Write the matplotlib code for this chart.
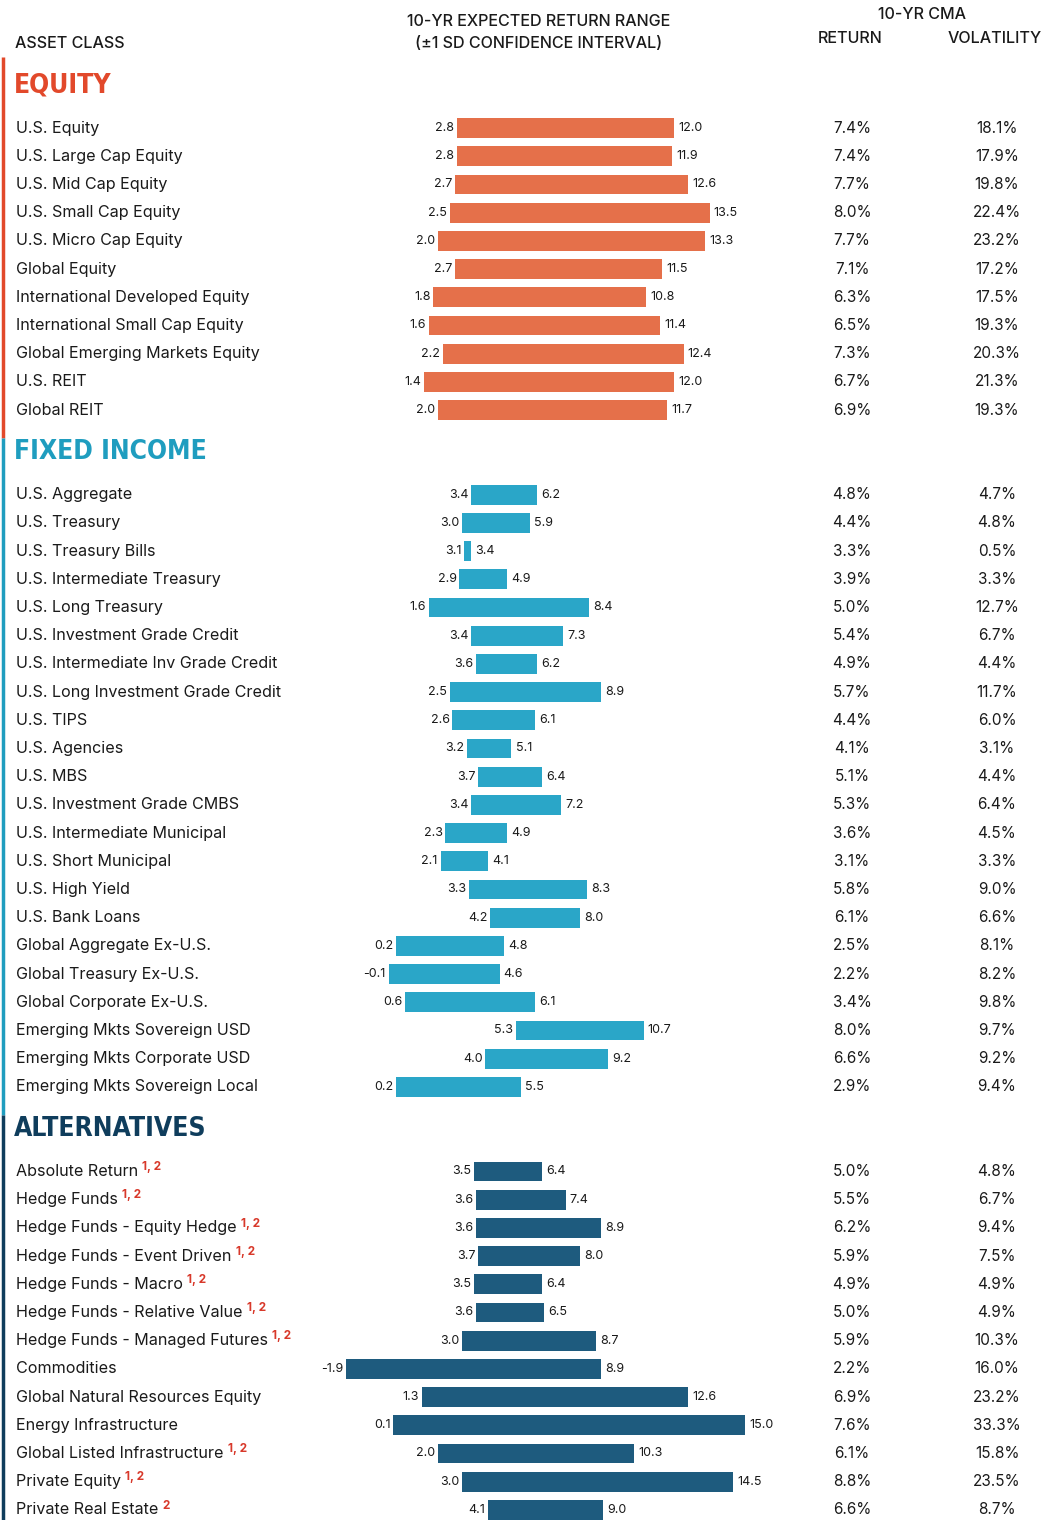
import matplotlib.pyplot as plt
from matplotlib import font_manager
from matplotlib.transforms import blended_transform_factory

# ---- data ----
equity_names = ["U.S. Equity", "U.S. Large Cap Equity", "U.S. Mid Cap Equity",
                "U.S. Small Cap Equity", "U.S. Micro Cap Equity", "Global Equity",
                "International Developed Equity", "International Small Cap Equity",
                "Global Emerging Markets Equity", "U.S. REIT", "Global REIT"]
equity_low = [2.8, 2.8, 2.7, 2.5, 2.0, 2.7, 1.8, 1.6, 2.2, 1.4, 2.0]
equity_high = [12.0, 11.9, 12.6, 13.5, 13.3, 11.5, 10.8, 11.4, 12.4, 12.0, 11.7]
equity_ret = ["7.4%", "7.4%", "7.7%", "8.0%", "7.7%", "7.1%", "6.3%", "6.5%", "7.3%", "6.7%", "6.9%"]
equity_vol = ["18.1%", "17.9%", "19.8%", "22.4%", "23.2%", "17.2%", "17.5%", "19.3%", "20.3%", "21.3%", "19.3%"]

fi_names = ["U.S. Aggregate", "U.S. Treasury", "U.S. Treasury Bills", "U.S. Intermediate Treasury",
            "U.S. Long Treasury", "U.S. Investment Grade Credit", "U.S. Intermediate Inv Grade Credit",
            "U.S. Long Investment Grade Credit", "U.S. TIPS", "U.S. Agencies", "U.S. MBS",
            "U.S. Investment Grade CMBS", "U.S. Intermediate Municipal", "U.S. Short Municipal",
            "U.S. High Yield", "U.S. Bank Loans", "Global Aggregate Ex-U.S.",
            "Global Treasury Ex-U.S.", "Global Corporate Ex-U.S.", "Emerging Mkts Sovereign USD",
            "Emerging Mkts Corporate USD", "Emerging Mkts Sovereign Local"]
fi_low = [3.4, 3.0, 3.1, 2.9, 1.6, 3.4, 3.6, 2.5, 2.6, 3.2, 3.7, 3.4, 2.3, 2.1, 3.3, 4.2,
          0.2, -0.1, 0.6, 5.3, 4.0, 0.2]
fi_high = [6.2, 5.9, 3.4, 4.9, 8.4, 7.3, 6.2, 8.9, 6.1, 5.1, 6.4, 7.2, 4.9, 4.1, 8.3, 8.0,
           4.8, 4.6, 6.1, 10.7, 9.2, 5.5]
fi_ret = ["4.8%", "4.4%", "3.3%", "3.9%", "5.0%", "5.4%", "4.9%", "5.7%", "4.4%", "4.1%", "5.1%",
          "5.3%", "3.6%", "3.1%", "5.8%", "6.1%", "2.5%", "2.2%", "3.4%", "8.0%", "6.6%", "2.9%"]
fi_vol = ["4.7%", "4.8%", "0.5%", "3.3%", "12.7%", "6.7%", "4.4%", "11.7%", "6.0%", "3.1%", "4.4%",
          "6.4%", "4.5%", "3.3%", "9.0%", "6.6%", "8.1%", "8.2%", "9.8%", "9.7%", "9.2%", "9.4%"]

alt_names = ["Absolute Return", "Hedge Funds", "Hedge Funds - Equity Hedge",
             "Hedge Funds - Event Driven", "Hedge Funds - Macro", "Hedge Funds - Relative Value",
             "Hedge Funds - Managed Futures", "Commodities", "Global Natural Resources Equity",
             "Energy Infrastructure", "Global Listed Infrastructure", "Private Equity",
             "Private Real Estate"]
alt_notes = ["1, 2", "1, 2", "1, 2", "1, 2", "1, 2", "1, 2", "1, 2", "", "", "", "1, 2", "1, 2", "2"]
alt_low = [3.5, 3.6, 3.6, 3.7, 3.5, 3.6, 3.0, -1.9, 1.3, 0.1, 2.0, 3.0, 4.1]
alt_high = [6.4, 7.4, 8.9, 8.0, 6.4, 6.5, 8.7, 8.9, 12.6, 15.0, 10.3, 14.5, 9.0]
alt_ret = ["5.0%", "5.5%", "6.2%", "5.9%", "4.9%", "5.0%", "5.9%", "2.2%", "6.9%", "7.6%",
           "6.1%", "8.8%", "6.6%"]
alt_vol = ["4.8%", "6.7%", "9.4%", "7.5%", "4.9%", "4.9%", "10.3%", "16.0%", "23.2%", "33.3%",
           "15.8%", "23.5%", "8.7%"]

sections = [
    ("EQUITY", "#e2492b", "#e5704a", equity_names, equity_low, equity_high, equity_ret, equity_vol, None),
    ("FIXED INCOME", "#1f9dbf", "#2aa6c8", fi_names, fi_low, fi_high, fi_ret, fi_vol, None),
    ("ALTERNATIVES", "#0f3d5c", "#1e5b7e", alt_names, alt_low, alt_high, alt_ret, alt_vol, alt_notes),
]

plt.rcParams['font.family'] = ['Inter', 'DejaVu Sans']
TXT = "#1a1a1a"


# section titles use a very condensed face; take the narrowest bold one installed
def condensed_font():
    best = None
    for f in font_manager.fontManager.ttflist:
        nm = f.name.lower()
        narrow = ('narrow' in nm or 'condensed' in nm or
                  str(f.stretch) in ('condensed', 'semi-condensed', 'extra-condensed') or
                  (isinstance(f.stretch, int) and f.stretch < 500))
        wt = f.weight if isinstance(f.weight, int) else 400
        if narrow and wt >= 600 and 'mono' not in nm and 'serif' not in nm.replace('sans', ''):
            if best is None or 'liberation' in nm:
                best = f
    if best is not None:
        return font_manager.FontProperties(fname=best.fname, size=19)
    return font_manager.FontProperties(family='DejaVu Sans', weight='bold', size=15)


head_font = condensed_font()

fig = plt.figure(figsize=(10.42, 15.2), dpi=100)
ax = fig.add_axes([0, 0, 1, 1])
# x in return units (zero at ~391 px, ~23.6 px per point), y in row slots
ax.set_xlim(-391 / 23.6, (1042 - 391) / 23.6)
ax.set_ylim(49.36, -4.54)
ax.axis('off')

# figure-fraction x, data y for text columns
tr = blended_transform_factory(fig.transFigure, ax.transData)

# column headers
hkw = dict(transform=tr, fontsize=11.6, fontweight='medium', color=TXT, va='center')
ax.text(15 / 1042, -3.0, "ASSET CLASS", **hkw)
ax.text(539 / 1042, -3.76, "10-YR EXPECTED RETURN RANGE", ha='center', **hkw)
ax.text(539 / 1042, -2.98, "(\u00b11 SD CONFIDENCE INTERVAL)", ha='center', **hkw)
ax.text(922 / 1042, -4.02, "10-YR CMA", ha='center', **hkw)
ax.text(850 / 1042, -3.19, "RETURN", ha='center', **hkw)
ax.text(995 / 1042, -3.19, "VOLATILITY", ha='center', **hkw)

start = 0
band_top = -2.52
for title, hcol, bcol, names, low, high, ret, vol, notes in sections:
    ys = [start + i for i in range(len(names))]
    head_y = start - 1.52
    ax.text(14 / 1042, head_y, title, transform=tr, fontproperties=head_font,
            color=hcol, va='center')

    widths = [h - l for l, h in zip(low, high)]
    ax.barh(ys, widths, left=low, height=0.7, color=bcol, edgecolor='none')

    for i, y in enumerate(ys):
        t = ax.text(16 / 1042, y, names[i], transform=tr, fontsize=11.6, color=TXT, va='center')
        if notes is not None and notes[i]:
            ax.annotate(notes[i], xy=(1, 1), xycoords=t, xytext=(3, 2),
                        textcoords='offset points', fontsize=8.5, color="#d8392b",
                        fontweight='bold', va='top', ha='left')
        ax.annotate(f"{low[i]:.1f}", xy=(low[i], y), xytext=(-2, 0), textcoords='offset points',
                    ha='right', va='center', fontsize=9, color=TXT)
        ax.annotate(f"{high[i]:.1f}", xy=(high[i], y), xytext=(3, 0), textcoords='offset points',
                    ha='left', va='center', fontsize=9, color=TXT)
        ax.text(852 / 1042, y, ret[i], transform=tr, fontsize=11, color=TXT, va='center', ha='center')
        ax.text(997 / 1042, y, vol[i], transform=tr, fontsize=11, color=TXT, va='center', ha='center')

    # coloured bar along the left edge for this section
    band_bot = ys[-1] + 1.0 if title != "ALTERNATIVES" else 49.4
    ax.plot([2.5 / 1042, 2.5 / 1042], [band_top, band_bot], transform=tr, color=hcol,
            lw=2.5, solid_capstyle='butt')
    band_top = band_bot
    start = ys[-1] + 3

fig.savefig("out.png", dpi=100)
